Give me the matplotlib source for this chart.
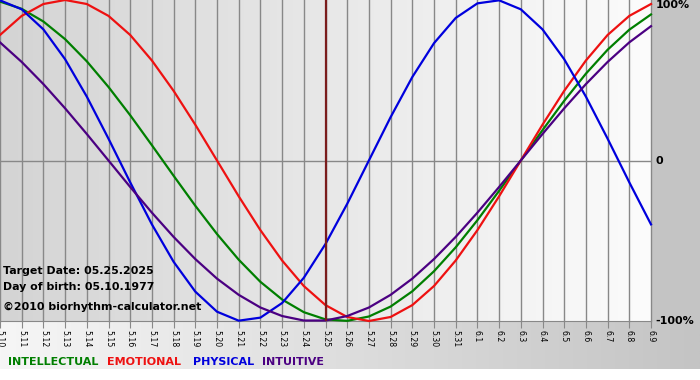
import matplotlib
matplotlib.use('Agg')
import matplotlib.pyplot as plt
import numpy as np
from matplotlib.colors import LinearSegmentedColormap
from matplotlib.patches import Rectangle
from matplotlib.transforms import blended_transform_factory

# day labels (May 10 -> June 9)
days = ['5.10', '5.11', '5.12', '5.13', '5.14', '5.15', '5.16', '5.17', '5.18', '5.19',
        '5.20', '5.21', '5.22', '5.23', '5.24', '5.25', '5.26', '5.27', '5.28', '5.29',
        '5.30', '5.31', '6.1', '6.2', '6.3', '6.4', '6.5', '6.6', '6.7', '6.8', '6.9']

# cycle values, one per day (fraction of 100%)
intellectual = [0.99, 0.945, 0.866, 0.756, 0.618, 0.458, 0.282, 0.095, -0.095, -0.282,
                -0.458, -0.618, -0.756, -0.866, -0.945, -0.99, -0.999, -0.972, -0.91, -0.815,
                -0.69, -0.541, -0.372, -0.189, 0.0, 0.189, 0.372, 0.541, 0.69, 0.815, 0.91]
emotional = [0.782, 0.901, 0.975, 1.0, 0.975, 0.901, 0.782, 0.623, 0.434, 0.223,
             0.0, -0.223, -0.434, -0.623, -0.782, -0.901, -0.975, -1.0, -0.975, -0.901,
             -0.782, -0.623, -0.434, -0.223, 0.0, 0.223, 0.434, 0.623, 0.782, 0.901, 0.975]
physical = [0.998, 0.942, 0.817, 0.631, 0.398, 0.136, -0.136, -0.398, -0.631, -0.817,
            -0.942, -0.998, -0.979, -0.888, -0.731, -0.52, -0.27, 0.0, 0.27, 0.52,
            0.731, 0.888, 0.979, 0.998, 0.942, 0.817, 0.631, 0.398, 0.136, -0.136, -0.398]
intuitive = [0.736, 0.614, 0.476, 0.325, 0.165, 0.0, -0.165, -0.325, -0.476, -0.614,
             -0.736, -0.837, -0.916, -0.969, -0.997, -0.997, -0.969, -0.916, -0.837, -0.736,
             -0.614, -0.476, -0.325, -0.165, 0.0, 0.165, 0.325, 0.476, 0.614, 0.736, 0.837]

target_index = 15  # 5.25

names = ['INTELLECTUAL', 'EMOTIONAL', 'PHYSICAL', 'INTUITIVE']
colors = ['#007f00', '#ee1111', '#0000dd', '#4b0082']

fig = plt.figure(figsize=(7, 3.8), dpi=100)
fig.patch.set_facecolor('white')

# background pieces in pixel coords
bg = fig.add_axes([0, 0, 1, 1], zorder=-1)
bg.set_xlim(0, 700)
bg.set_ylim(380, 0)
bg.axis('off')
grad = np.linspace(0, 1, 256).reshape(1, -1)
bottom_cmap = LinearSegmentedColormap.from_list('bottom', ['#f6f6f6', '#c4c4c4'])
bg.imshow(grad, cmap=bottom_cmap, extent=(0, 700, 369, 321), aspect='auto')
bg.add_patch(Rectangle((651, 0), 49, 321, color='#c4c4c4', lw=0))

ax = fig.add_axes([0, 59 / 380, 651 / 700, 321 / 380])
x = np.arange(len(days))
plot_cmap = LinearSegmentedColormap.from_list('plot', ['#d4d4d4', '#fcfcfc'])
ax.imshow(grad, cmap=plot_cmap, extent=(0, len(days) - 1, -1, 1), aspect='auto', zorder=0)
ax.set_xlim(0, len(days) - 1)
ax.set_ylim(-1, 1)

for xi in x:
    ax.axvline(xi, color='#888888', lw=1, zorder=1, clip_on=False)
ax.axhline(0, color='#888888', lw=1, zorder=1)

for vals, c in zip([intellectual, emotional, physical, intuitive], colors):
    ax.plot(x, vals, color=c, lw=1.6, zorder=3, clip_on=False)

ax.axvline(target_index, color='#7a1c1c', lw=1.6, zorder=4)

for s in ['top', 'left', 'right']:
    ax.spines[s].set_visible(False)
ax.spines['bottom'].set_color('#888888')

ax.set_xticks(x)
ax.set_xticklabels(days, rotation=-90, fontsize=5.6)
ax.tick_params(axis='x', direction='out', length=5, color='#888888', pad=1.5)
ax.set_yticks([])

tr = blended_transform_factory(ax.transAxes, ax.transData)
ax.text(1.007, 1.0, '100%', transform=tr, fontsize=8, fontweight='bold', va='top', ha='left')
ax.text(1.007, 0.0, '0', transform=tr, fontsize=8, fontweight='bold', va='center', ha='left')
ax.text(1.007, -1.0, '-100%', transform=tr, fontsize=8, fontweight='bold', va='center', ha='left')

fig.text(3 / 700, 1 - 271 / 380, 'Target Date: 05.25.2025', fontsize=7.9, fontweight='bold', va='center')
fig.text(3 / 700, 1 - 287 / 380, 'Day of birth: 05.10.1977', fontsize=7.9, fontweight='bold', va='center')
fig.text(3 / 700, 1 - 307 / 380, '\u00a92010 biorhythm-calculator.net', fontsize=7.9, fontweight='bold', va='center')

legend_x = [8, 107, 193, 262]
for name, c, lx in zip(names, colors, legend_x):
    fig.text(lx / 700, 1 - 362 / 380, name, color=c, fontsize=8, fontweight='bold', va='center')

fig.savefig('out.png', dpi=100)
